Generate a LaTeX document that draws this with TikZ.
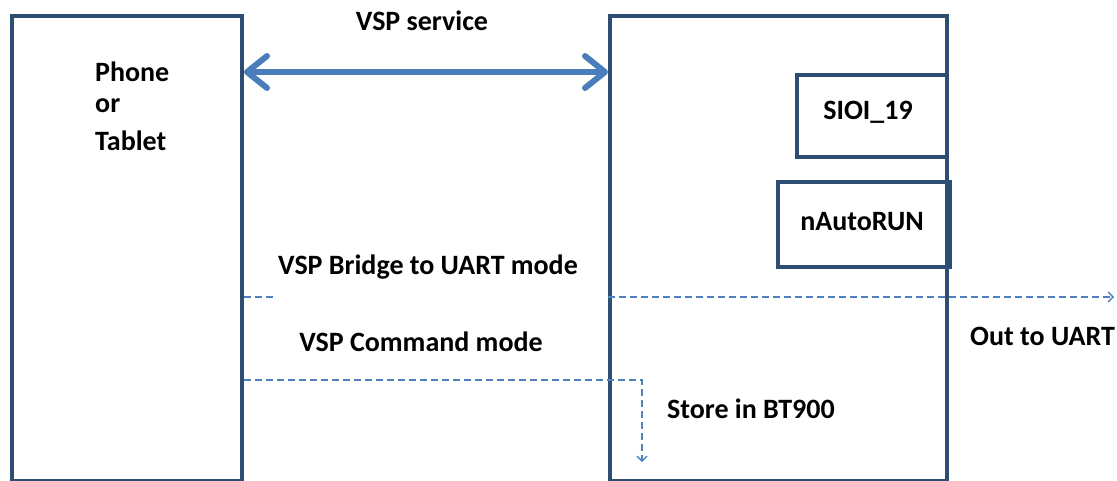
\documentclass[tikz,border=0pt]{standalone}
\usepackage{fontspec}
\setmainfont{Carlito}
\usetikzlibrary{arrows.meta}
\definecolor{boxc}{HTML}{2E4D73}
\definecolor{arrc}{HTML}{4A7EBB}
\definecolor{dashc}{HTML}{4F81BD}
\begin{document}
\begin{tikzpicture}[x=1pt,y=-1pt,
  box/.style={draw=boxc, line width=4pt, inner sep=0pt, anchor=north west},
  lbl/.style={font=\bfseries\fontsize{28}{32}\selectfont, inner sep=0pt},
  dline/.style={draw=dashc, line width=1.4pt, dash pattern=on 7pt off 4pt},
  bigarrow/.style={draw=arrc, line width=6pt, line cap=round,
    {Straight Barb[length=20pt,width=32pt,round]}-{Straight Barb[length=20pt,width=32pt,round]}},
  smalltip/.style={-{Straight Barb[length=5pt,width=10pt]}}
]
\useasboundingbox (0,0) rectangle (1117,480);
% boxes
\node[box, minimum width=230, minimum height=465] (phone) at (10,14) {};
\node[box, minimum width=337, minimum height=465] (bt) at (608,14) {};
\node[box, minimum width=150, minimum height=82] (sioi) at (795,73) {};
\node[box, minimum width=172, minimum height=85] (auto) at (776,180) {};
% rows
\coordinate (rowA) at (0,72);
\coordinate (rowB) at (0,297);
\coordinate (rowC) at (0,380);
\coordinate (bfrag) at (275,297);
\coordinate (uart) at (1114,297);
\coordinate (storeturn) at (642,380);
\coordinate (storeend) at (642,462);
% connectors
\draw[bigarrow] (phone.east |- rowA) -- (bt.west |- rowA);
\draw[dline] (phone.east |- rowB) -- (bfrag);
\draw[dline, smalltip] (bt.west |- rowB) -- (uart);
\draw[dline, smalltip] (phone.east |- rowC) -- (storeturn) -- (storeend);
% labels
\node[lbl] (tsvc) at (422,21) {VSP service};
\node[lbl, anchor=west] (t1) at (95,72) {Phone};
\node[lbl, anchor=west] (t2) at (95,106) {or};
\node[lbl, anchor=west] (t3) at (95,141) {Tablet};
\node[lbl] (tsioi) at (868,112) {SIOI\_19};
\node[lbl] (tauto) at (862,222) {nAutoRUN};
\node[lbl] (tbridge) at (428,267) {VSP Bridge to UART mode};
\node[lbl] (tcmd) at (421,342) {VSP Command mode};
\node[lbl, anchor=west] (tout) at (970,336) {Out to UART};
\node[lbl, anchor=west] (tstore) at (667,409) {Store in BT900};
\end{tikzpicture}
\end{document}
